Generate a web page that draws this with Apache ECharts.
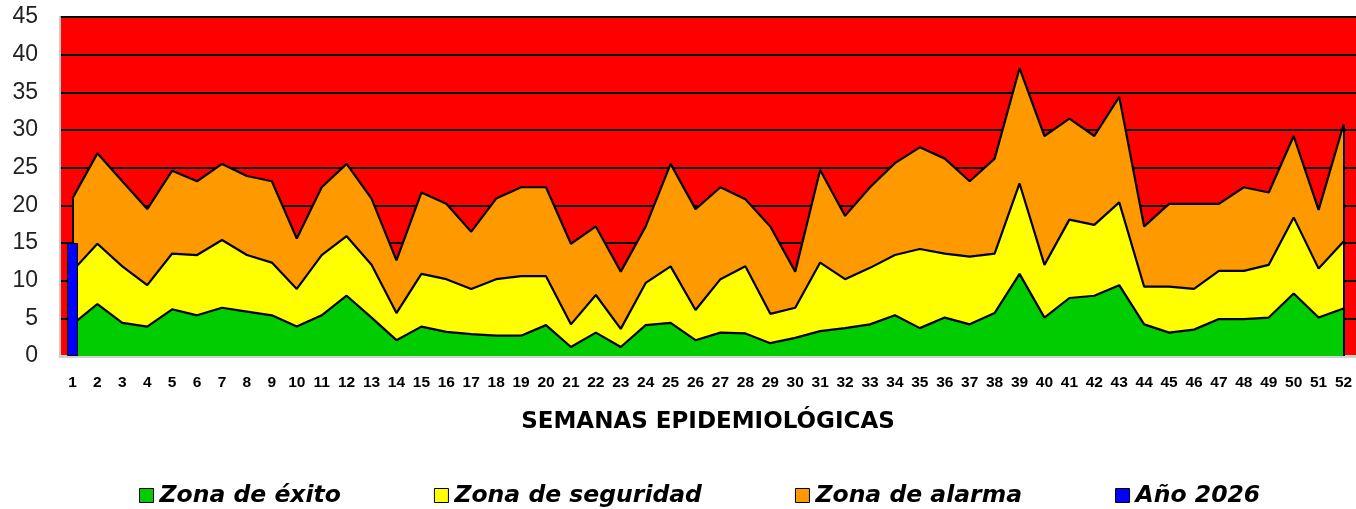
<!DOCTYPE html>
<html>
<head>
<meta charset="utf-8">
<script src="https://cdn.jsdelivr.net/npm/echarts@6/dist/echarts.min.js"></script>
<style>
  html, body { margin: 0; padding: 0; background: #fff; }
  #chart { width: 1356px; height: 509px; }
</style>
</head>
<body>
<div id="chart"></div>
<script>
// semanas epidemiologicas 1..52
var semanas = ['1','2','3','4','5','6','7','8','9','10','11','12','13','14','15','16','17','18','19','20','21','22','23','24','25','26',
  '27','28','29','30','31','32','33','34','35','36','37','38','39','40','41','42','43','44','45','46','47','48','49','50','51','52']

// upper limit of each zone
var zonaExito = [4.2, 6.9, 4.4, 3.9, 6.2, 5.4, 6.4, 5.9, 5.4, 3.9, 5.4, 8.0, 5.1, 2.1, 3.9, 3.2, 2.9, 2.7, 2.7, 4.1, 1.2, 3.1, 1.2, 4.1, 4.4, 2.1,
  3.1, 3.0, 1.7, 2.4, 3.3, 3.7, 4.2, 5.4, 3.7, 5.1, 4.2, 5.7, 10.9, 5.1, 7.7, 8.0, 9.4, 4.2, 3.1, 3.5, 4.9, 4.9, 5.1, 8.3, 5.1, 6.3]
var zonaSeguridad = [11.3, 14.9, 11.9, 9.4, 13.6, 13.4, 15.4, 13.4, 12.4, 8.9, 13.4, 15.9, 12.1, 5.7, 10.9, 10.2, 8.9, 10.2, 10.6, 10.6, 4.2, 8.1, 3.6, 9.7, 11.9, 6.1,
  10.2, 11.9, 5.6, 6.4, 12.4, 10.2, 11.7, 13.4, 14.2, 13.6, 13.2, 13.6, 22.9, 12.1, 18.1, 17.4, 20.4, 9.2, 9.2, 8.9, 11.3, 11.3, 12.1, 18.4, 11.6, 15.2]
var zonaAlarma = [20.9, 26.9, 23.2, 19.5, 24.6, 23.2, 25.5, 23.9, 23.2, 15.6, 22.4, 25.5, 20.9, 12.7, 21.7, 20.2, 16.5, 20.9, 22.4, 22.4, 14.9, 17.2, 11.2, 17.2, 25.5, 19.5,
  22.4, 20.8, 17.2, 11.2, 24.7, 18.6, 22.4, 25.6, 27.7, 26.2, 23.2, 26.2, 38.2, 29.2, 31.5, 29.2, 34.4, 17.2, 20.2, 20.2, 20.2, 22.4, 21.7, 29.2, 19.4, 30.7]
var anio2026 = [15]

var chart = echarts.init(document.getElementById('chart'))

var lineBorder = { color: '#000', width: 2.2 }

chart.setOption({
  animation: false,
  grid: {
    left: 60,
    right: 0,
    top: 17,
    bottom: 153,
    show: true,
    backgroundColor: '#FF0000',
    borderWidth: 0
  },
  legend: {
    left: 134,
    top: 479,
    icon: 'rect',
    itemWidth: 14,
    itemHeight: 14,
    itemGap: 93,
    itemStyle: { borderColor: '#000', borderWidth: 1 },
    textStyle: {
      fontFamily: 'DejaVu Sans',
      fontWeight: 'bold',
      fontStyle: 'italic',
      fontSize: 23.5,
      color: '#000',
      padding: [0, 0, 0, 1]
    },
    data: ['Zona de éxito', 'Zona de seguridad', 'Zona de alarma', 'Año 2026']
  },
  xAxis: {
    type: 'category',
    data: semanas,
    boundaryGap: true,
    name: 'SEMANAS EPIDEMIOLÓGICAS',
    nameLocation: 'middle',
    nameGap: 55,
    nameTextStyle: {
      fontFamily: 'DejaVu Sans',
      fontWeight: 'bold',
      fontSize: 23,
      color: '#000'
    },
    axisLine: { lineStyle: { color: '#d0d0d0', width: 3 } },
    axisTick: { show: false },
    axisLabel: {
      interval: 0,
      margin: 19,
      fontFamily: 'Liberation Sans',
      fontWeight: 'bold',
      fontSize: 15.5,
      color: '#000'
    }
  },
  yAxis: {
    type: 'value',
    min: 0,
    max: 45,
    interval: 5,
    axisLine: { show: true, lineStyle: { color: '#c8c8c8', width: 2 } },
    axisTick: { show: false },
    axisLabel: {
      margin: 22,
      fontFamily: 'Liberation Sans',
      fontSize: 23,
      color: '#222'
    },
    splitLine: { lineStyle: { color: '#000', width: 2 } }
  },
  series: [
    {
      name: 'Zona de alarma',
      type: 'line',
      data: zonaAlarma,
      symbol: 'none',
      itemStyle: { color: '#FF9900' },
      lineStyle: lineBorder,
      areaStyle: { color: '#FF9900', opacity: 1 },
      z: 2
    },
    {
      name: 'Zona de seguridad',
      type: 'line',
      data: zonaSeguridad,
      symbol: 'none',
      itemStyle: { color: '#FFFF00' },
      lineStyle: lineBorder,
      areaStyle: { color: '#FFFF00', opacity: 1 },
      z: 3
    },
    {
      name: 'Zona de éxito',
      type: 'line',
      data: zonaExito,
      symbol: 'none',
      itemStyle: { color: '#00CC00' },
      lineStyle: lineBorder,
      areaStyle: { color: '#00CC00', opacity: 1 },
      z: 4
    },
    {
      name: 'Año 2026',
      type: 'bar',
      data: anio2026,
      barWidth: 11,
      itemStyle: { color: '#0000FF', borderColor: '#000', borderWidth: 1 },
      z: 5,
      markLine: {
        silent: true,
        symbol: 'none',
        label: { show: false },
        lineStyle: { color: '#000', width: 2, type: 'solid' },
        data: [
          [{ coord: [semanas[0], 0] }, { coord: [semanas[0], zonaAlarma[0]] }],
          [{ coord: [semanas[51], 0] }, { coord: [semanas[51], zonaAlarma[51]] }]
        ]
      }
    }
  ]
})
</script>
</body>
</html>
